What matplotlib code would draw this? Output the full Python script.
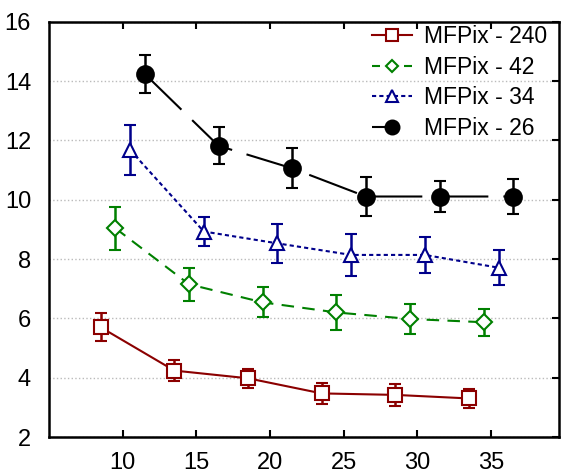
import numpy as np
import matplotlib
matplotlib.use('Agg')
import matplotlib.pyplot as plt
from matplotlib.lines import Line2D

plt.rcParams['font.family'] = ['Liberation Sans', 'DejaVu Sans']

labels = ['MFPix - 240', 'MFPix - 42', 'MFPix - 34', 'MFPix - 26']
x_base = np.array([8.5, 13.5, 18.5, 23.5, 28.5, 33.5])
x_shift = [0.0, 1.0, 2.0, 3.0]

y240 = [5.7, 4.24, 3.98, 3.47, 3.42, 3.30]
e240 = [0.47, 0.36, 0.33, 0.35, 0.38, 0.32]
y42 = [9.04, 7.15, 6.54, 6.2, 5.98, 5.87]
e42 = [0.72, 0.55, 0.51, 0.6, 0.5, 0.45]
y34 = [11.68, 8.93, 8.53, 8.14, 8.14, 7.71]
e34 = [0.85, 0.48, 0.65, 0.7, 0.62, 0.6]
y26 = [14.24, 11.82, 11.06, 10.11, 10.11, 10.11]
e26 = [0.63, 0.63, 0.67, 0.67, 0.52, 0.58]

series = [(y240, e240), (y42, e42), (y34, e34), (y26, e26)]
colors = ['#8b0000', '#008000', '#00008b', 'black']
markers = ['s', 'D', '^', 'o']
msizes = [10, 8, 10, 12]
leg_sizes = [8, 6.5, 8, 10]
mfc = ['white', 'white', 'white', 'black']
plot_ls = ['-', (0, (6, 4)), (0, (2, 1.5)), (0, (24.5, 7.2))]
leg_ls = ['-', (0, (3.84, 3.84)), (0, (2, 1.5)), (0, (9, 20))]

fig = plt.figure(figsize=(5.64, 4.75), dpi=100)
ax = fig.add_axes([0.087, 0.08, 0.904, 0.874])

handles = []
for i, (y, e) in enumerate(series):
    ax.errorbar(x_base + x_shift[i], y, yerr=e, color=colors[i], marker=markers[i],
                markersize=msizes[i], markerfacecolor=mfc[i], markeredgewidth=1.5,
                linestyle=plot_ls[i], linewidth=1.5, capsize=4.5, elinewidth=1.8,
                capthick=1.8)
    handles.append(Line2D([], [], color=colors[i], marker=markers[i],
                          markersize=leg_sizes[i], markerfacecolor=mfc[i],
                          markeredgewidth=1.5, linestyle=leg_ls[i], linewidth=1.5))

ax.set_xlim(5, 39.6)
ax.set_ylim(2, 16)
ax.set_xticks([10, 15, 20, 25, 30, 35])
ax.set_yticks(np.arange(2, 17, 2))
ax.yaxis.grid(True, linestyle=':', color='#bbbbbb', linewidth=1)
ax.set_axisbelow(True)
ax.tick_params(direction='in', top=True, right=True, labelsize=17, length=5, width=1.5, pad=11)
ax.tick_params(axis='y', left=False, pad=13)
for s in ax.spines.values():
    s.set_linewidth(1.8)

leg = ax.legend(handles, labels, loc='upper right', frameon=False, fontsize=16.5,
                handlelength=1.75, borderaxespad=0.1, labelspacing=0.33,
                handletextpad=0.52, bbox_to_anchor=(1.0, 1.02))

fig.savefig('out.png', dpi=100)
